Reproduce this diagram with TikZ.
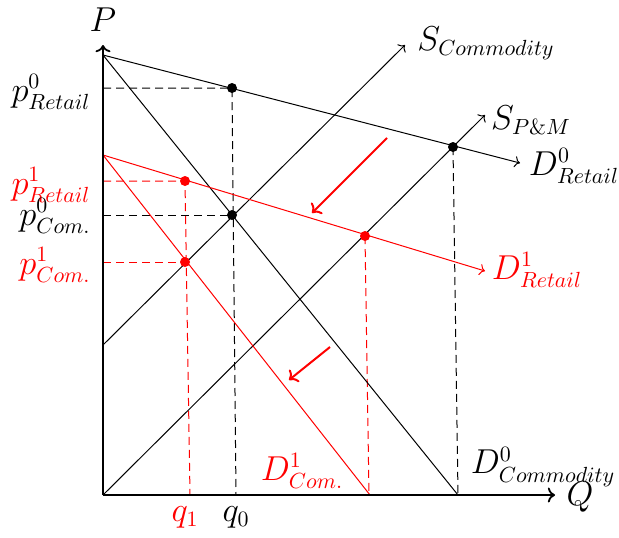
\documentclass[tikz,border=0pt]{standalone}
\usetikzlibrary{arrows.meta}
\begin{document}
\begin{tikzpicture}[x=0.5pt,y=-0.5pt,
  font=\fontsize{16}{19}\selectfont,
  axisline/.style={line width=0.9pt,->},
  curve/.style={line width=0.5pt},
  guide/.style={line width=0.5pt, dash pattern=on 4pt off 2.5pt},
  dot/.style={circle, fill, inner sep=0pt, minimum size=5pt},
  shiftarrow/.style={red, line width=1pt, ->},
  lbl/.style={inner sep=0pt}]
\useasboundingbox (0,0) rectangle (619,537);

% key coordinates
\coordinate (O) at (103,495);
\coordinate (Ytop) at (103,45);
\coordinate (Xend) at (555,495);
\coordinate (A) at (103,55);
\coordinate (DRzeroEnd) at (520,163);
\coordinate (DCzeroEnd) at (458,495);
\coordinate (SCstart) at (103,345);
\coordinate (SCend) at (405,45);
\coordinate (SPend) at (485,115);
\coordinate (B) at (103,155);
\coordinate (DRoneEnd) at (485,271);
\coordinate (DConeEnd) at (370,495);
\coordinate (yRzero) at (103,88);
\coordinate (yCzero) at (103,215);
\coordinate (yRone) at (103,181);
\coordinate (yCone) at (103,262);
\coordinate (xqzero) at (236,495);
\coordinate (xqone) at (190,495);
\coordinate (xthree) at (458,495);
\coordinate (xrthree) at (369,495);
\coordinate (ArA) at (387,138);
\coordinate (ArAe) at (312,213);
\coordinate (ArB) at (330,347);
\coordinate (ArBe) at (289,380);

% equilibrium points (positions)
\coordinate (e1) at (232,88);
\coordinate (e2) at (232,215);
\coordinate (e3) at (453,147);
\coordinate (r1) at (185,181);
\coordinate (r2) at (185,262);
\coordinate (r3) at (365,236);

% guides
\draw[guide] (yRzero) -- (e1) -- (xqzero);
\draw[guide] (yCzero) -- (e2);
\draw[guide] (e3) -- (xthree);
\draw[guide, red] (yRone) -- (r1) -- (xqone);
\draw[guide, red] (yCone) -- (r2);
\draw[guide, red] (r3) -- (xrthree);

% curves
\draw[curve,->] (A) -- (DRzeroEnd);
\draw[curve] (A) -- (DCzeroEnd);
\draw[curve,->] (SCstart) -- (SCend);
\draw[curve,->] (O) -- (SPend);
\draw[curve,red,->] (B) -- (DRoneEnd);
\draw[curve,red] (B) -- (DConeEnd);

% axes
\draw[axisline] (O) -- (Ytop);
\draw[axisline] (O) -- (Xend);

% shift arrows
\draw[shiftarrow] (ArA) -- (ArAe);
\draw[shiftarrow] (ArB) -- (ArBe);

% dots
\node[dot] (E1) at (e1) {};
\node[dot] (E2) at (e2) {};
\node[dot] (E3) at (e3) {};
\node[dot,red] (R1) at (r1) {};
\node[dot,red] (R2) at (r2) {};
\node[dot,red] (R3) at (r3) {};

% labels
\node[lbl] (Plbl) at (103,20) {$P$};
\node[lbl] (Qlbl) at (580,497) {$Q$};
\node[lbl] (pR0) at (51,92) {$p^0_{Retail}$};
\node[lbl,red] (pR1) at (51,185) {$p^1_{Retail}$};
\node[lbl] (pC0) at (55,216) {$p^0_{Com.}$};
\node[lbl,red] (pC1) at (55,265) {$p^1_{Com.}$};
\node[lbl,red] (q1) at (185,517) {$q_1$};
\node[lbl] (q0) at (236,517) {$q_0$};
\node[lbl,red] (DC1) at (302,471) {$D^1_{Com.}$};
\node[lbl] (DC0) at (543,467) {$D^0_{Commodity}$};
\node[lbl] (SC) at (486,43) {$S_{Commodity}$};
\node[lbl] (SP) at (531,120) {$S_{P\&M}$};
\node[lbl] (DR0) at (574,166) {$D^0_{Retail}$};
\node[lbl,red] (DR1) at (537,270) {$D^1_{Retail}$};
\end{tikzpicture}
\end{document}
